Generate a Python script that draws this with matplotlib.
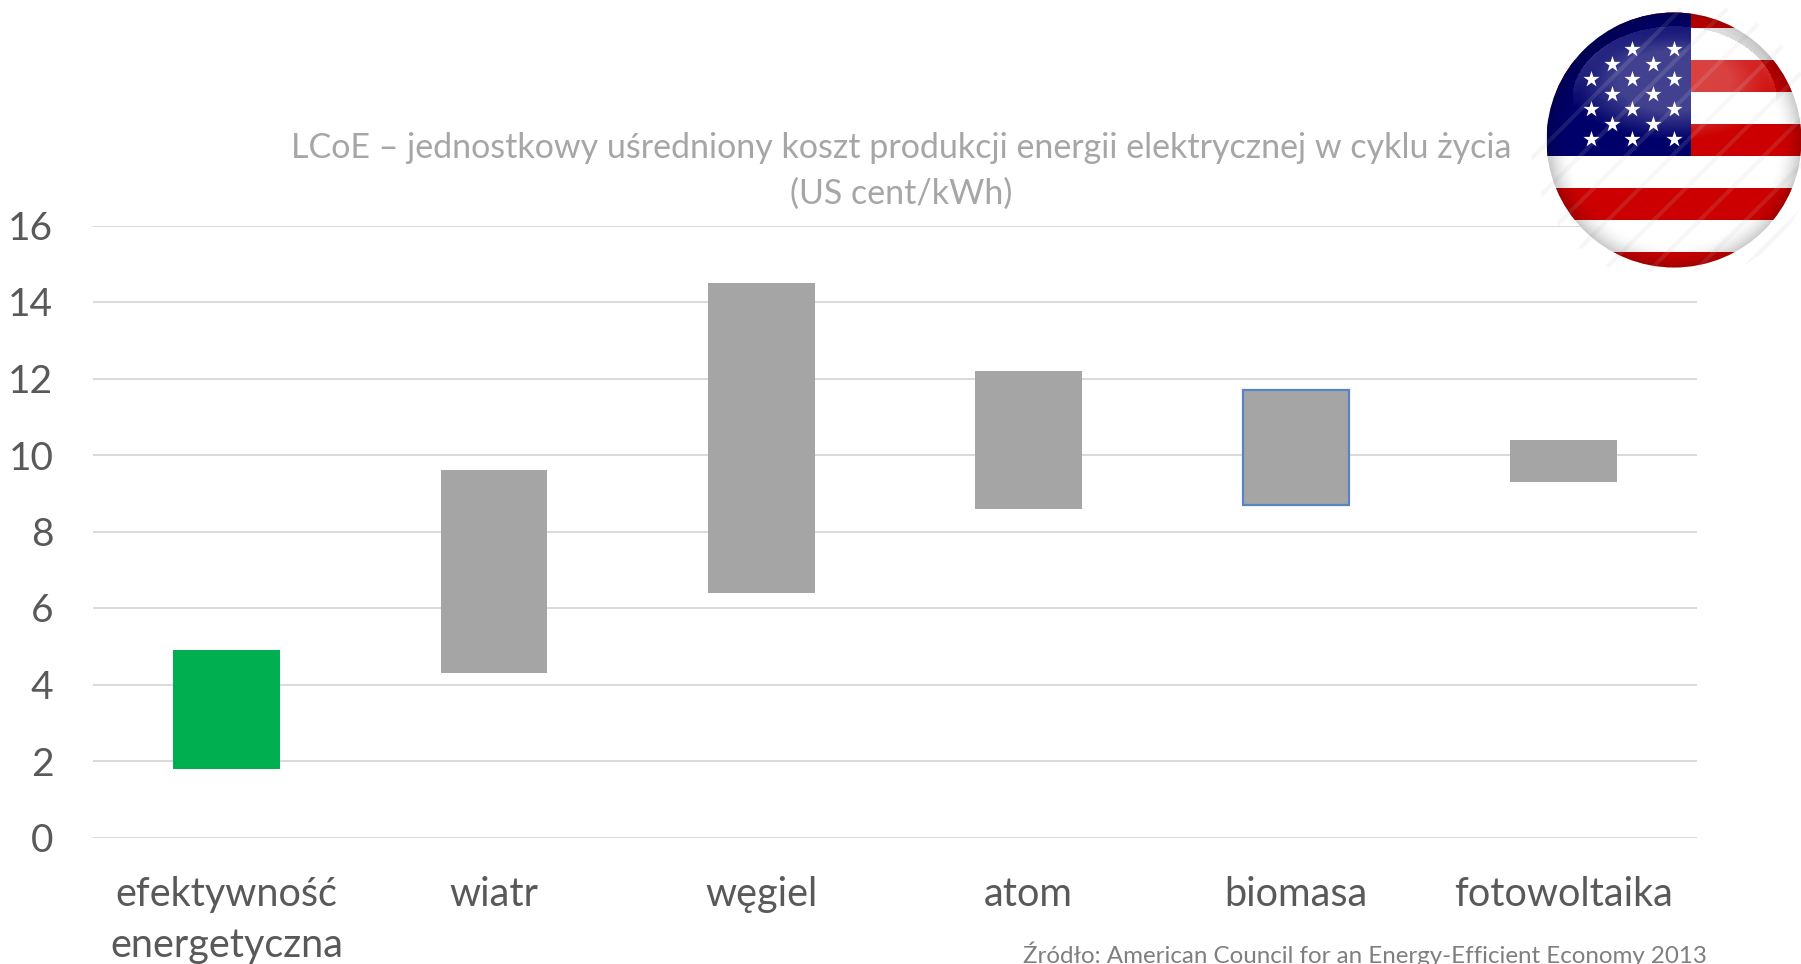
import numpy as np
import matplotlib
matplotlib.use("Agg")
import matplotlib.pyplot as plt
from matplotlib.patches import Circle, Rectangle

# Chart data
categories = ["efektywność\nenergetyczna", "wiatr", "węgiel", "atom", "biomasa", "fotowoltaika"]
cost_low = [1.8, 4.3, 6.4, 8.6, 8.7, 9.3]
cost_high = [4.9, 9.6, 14.5, 12.2, 11.7, 10.4]
bar_colors = ["#00b050", "#a5a5a5", "#a5a5a5", "#a5a5a5", "#a5a5a5", "#a5a5a5"]
bar_edges = ["none", "none", "none", "none", "#5585c5", "none"]
y_ticks = [0, 2, 4, 6, 8, 10, 12, 14, 16]
title_text = "LCoE – jednostkowy uśredniony koszt produkcji energii elektrycznej w cyklu życia\n(US cent/kWh)"
source_text = "Źródło: American Council for an Energy-Efficient Economy 2013"

W, H = 1801, 964
plt.rcParams["font.family"] = ["Lato", "DejaVu Sans"]

fig = plt.figure(figsize=(W / 100, H / 100), dpi=100, facecolor="white")

# Main chart, placed in pixel terms
left, right, top, bottom = 93, 1697, 225.5, 837.5
ax = fig.add_axes([left / W, 1 - bottom / H, (right - left) / W, (bottom - top) / H])
x = np.arange(len(categories))
heights = np.array(cost_high) - np.array(cost_low)
ax.bar(x, heights, bottom=cost_low, width=0.4, color=bar_colors, edgecolor=bar_edges, linewidth=1.6, zorder=3)

ax.set_xlim(-0.5, len(categories) - 0.5)
ax.set_ylim(0, 16)
ax.set_yticks(y_ticks)
ax.set_xticks(x)
ax.set_xticklabels(categories, linespacing=1.45)
ax.tick_params(axis="x", length=0, colors="#595959", labelsize=28.5, pad=28)
ax.tick_params(axis="y", length=0, colors="#595959", labelsize=28, pad=28.5)
ax.grid(axis="y", color="#d9d9d9", linewidth=1.4, zorder=0)
ax.set_axisbelow(True)
for spine in ax.spines.values():
    spine.set_visible(False)

fig.text(901 / W, 1 - 171 / H, title_text, ha="center", va="center", fontsize=24.5, color="#a6a6a6", linespacing=1.55)
fig.text(1365 / W, 1 - 954 / H, source_text, ha="center", va="center", fontsize=17.4, color="#7f7f7f")

# Flag badge, drawn in pixel coordinates on top of the chart
flag = fig.add_axes([0, 0, 1, 1], facecolor="none")
flag.set_xlim(0, W)
flag.set_ylim(H, 0)
flag.axis("off")

cx, cy, r = 1674, 140, 127.5

# faint diagonal streaks around the badge, fading out with the outer circle
halo = Circle((cx, cy), r + 16, transform=flag.transData, facecolor="none", edgecolor="none")
flag.add_patch(halo)
for offset in range(-120, 360, 46):
    line, = flag.plot([1540 + offset, 1800 + offset], [270, 10], color="#d8d8d8", lw=3, alpha=0.22, zorder=1)
    line.set_clip_path(halo)

disc = Circle((cx, cy), r, transform=flag.transData, facecolor="white", edgecolor="none", zorder=2)
flag.add_patch(disc)

stripe_edges = [12, 28, 60, 92, 124, 156, 188, 220, 252, 268]
for i in range(len(stripe_edges) - 1):
    color = "#cc0000" if i % 2 == 0 else "#ffffff"
    st = Rectangle((cx - r, stripe_edges[i]), 2 * r, stripe_edges[i + 1] - stripe_edges[i], facecolor=color, edgecolor="none", zorder=3)
    flag.add_patch(st)
    st.set_clip_path(disc)

canton = Rectangle((cx - r, 12), 1691 - (cx - r), 144, facecolor="#00006a", edgecolor="none", zorder=4)
flag.add_patch(canton)
canton.set_clip_path(disc)

# same streaks, very faint, across the lower part of the disc
for offset in range(-120, 360, 46):
    line, = flag.plot([1540 + offset, 1800 + offset], [270, 10], color="#c8c8c8", lw=3, alpha=0.14, zorder=5)
    line.set_clip_path(disc)

# shading: dark rim plus a soft gloss on the upper half
yy, xx = np.mgrid[12:268, 1546:1802]
dist = np.hypot(xx - cx, yy - cy) / r
shade = np.zeros(xx.shape + (4,))
rim = np.clip((dist - 0.8) / 0.2, 0, 1) ** 2 * 0.22
gloss = np.clip((1 - np.hypot((xx - cx) / 112, (yy - 80) / 60)) * 2.0, 0, 1) * 0.26
alpha = np.clip(rim + gloss, 0, 1)
shade[..., :3] = np.where((gloss > rim)[..., None], 1.0, 0.0)
shade[..., 3] = alpha
im = flag.imshow(shade, extent=(1546, 1802, 268, 12), zorder=6, interpolation="bilinear", aspect="auto")
im.set_clip_path(disc)
flag.set_xlim(0, W)
flag.set_ylim(H, 0)

star_x = [1591, 1612, 1632, 1653, 1674]
star_rows = [(49, (2, 4)), (64, (1, 3)), (79, (0, 2, 4)), (94, (1, 3)), (109, (0, 2, 4)), (124, (1, 3)), (139, (0, 2, 4))]
for sy, cols in star_rows:
    flag.scatter([star_x[c] for c in cols], [sy] * len(cols), marker="*", s=150, color="white", linewidths=0, zorder=7)

fig.savefig("out.png", dpi=100)
